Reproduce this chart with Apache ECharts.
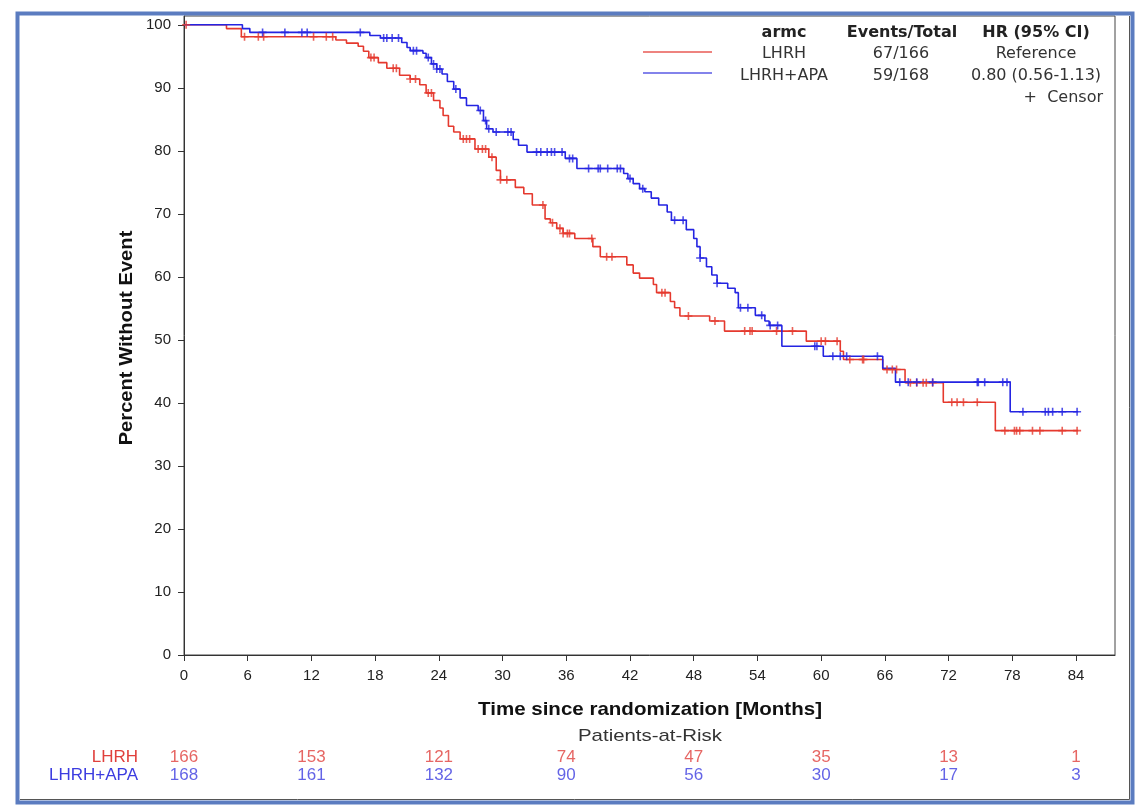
<!DOCTYPE html>
<html>
<head>
<meta charset="utf-8">
<script src="https://cdn.jsdelivr.net/npm/echarts@6/dist/echarts.min.js"></script>
<style>
html,body{margin:0;padding:0;background:#fff;}
#chart{width:1148px;height:812px;}
</style>
</head>
<body>
<div id="chart"></div>
<script>
// ---------- data ----------
const xTicks = [0, 6, 12, 18, 24, 30, 36, 42, 48, 54, 60, 66, 72, 78, 84];
const yTicks = [0, 10, 20, 30, 40, 50, 60, 70, 80, 90, 100];

const armNames = ['LHRH', 'LHRH+APA'];
const eventsTotal = ['67/166', '59/168'];
const hrText = ['Reference', '0.80 (0.56-1.13)'];

// Kaplan-Meier steps: [month, percent] (new level after each event)
const curveLHRH = [
  [0,100],[4.0,99.4],[5.4,98.1],[14.3,97.6],[15.3,97.1],[16.4,96.6],[16.9,95.8],[17.4,94.8],
  [18.3,94.0],[19.1,93.1],[20.3,92.0],[21.3,91.4],[22.2,90.5],[22.8,89.2],[23.5,88.0],[24.1,86.8],
  [24.4,85.6],[24.9,83.9],[25.4,83.0],[26.0,81.9],[27.4,80.3],[28.7,79.0],[29.4,76.9],[29.8,75.4],
  [31.2,74.2],[32.0,73.2],[32.8,71.4],[34.0,69.2],[34.5,68.6],[35.1,67.7],[35.7,66.9],[36.8,66.1],
  [38.5,64.8],[39.2,63.2],[41.7,61.9],[42.3,60.6],[42.9,59.8],[44.2,58.8],[44.5,57.5],[45.8,56.1],
  [46.2,55.1],[46.7,53.8],[49.5,53.0],[50.9,51.4],[58.6,49.8],[61.8,48.2],[62.1,46.9],[65.8,45.3],
  [67.9,43.2],[71.5,40.1],[76.4,35.6],[84.2,35.6]
];
const curveAPA = [
  [0,100],[5.5,99.4],[6.2,98.8],[17.5,98.3],[18.5,97.9],[20.5,97.2],[21.0,96.4],[21.3,95.9],
  [22.5,95.5],[22.8,94.8],[23.3,93.8],[23.8,93.0],[24.3,92.2],[24.8,91.0],[25.4,89.8],[26.0,88.4],
  [26.6,87.2],[27.7,86.4],[28.2,84.8],[28.5,83.5],[29.1,83.0],[31.0,81.8],[31.5,80.9],[32.3,79.8],
  [35.9,78.8],[37.0,77.2],[41.4,76.4],[41.8,75.6],[42.3,74.8],[42.9,74.0],[43.4,73.5],[44.0,72.5],
  [44.7,71.4],[45.5,70.3],[45.9,69.0],[47.3,67.5],[48.0,66.1],[48.3,64.8],[48.6,63.0],[49.2,61.6],
  [49.7,60.3],[50.2,59.0],[51.2,58.2],[51.9,57.5],[52.2,55.1],[53.8,53.9],[54.7,53.0],[55.1,52.3],
  [56.3,49.0],[60.2,47.4],[65.8,45.5],[67.0,43.3],[77.8,38.6],[84.2,38.6]
];

// censoring times (months)
const censorLHRH = [0.2,5.7,7.0,7.5,12.2,13.4,14.0,17.6,17.9,19.7,20.0,21.3,21.8,23.0,23.3,26.3,26.6,
  26.9,27.7,28.1,28.4,29.0,29.8,30.4,33.8,34.7,35.4,35.7,36.1,36.3,38.4,39.8,40.3,45.0,45.3,47.5,50.0,
  52.8,53.3,53.5,55.8,57.3,60.0,60.4,61.5,62.7,63.9,64.0,66.2,66.7,67.1,68.4,69.0,69.6,69.9,70.5,72.3,
  72.8,73.4,74.7,77.3,78.2,78.4,78.7,79.9,80.6,82.7,84.1];
const censorAPA = [7.4,9.5,11.1,11.6,16.6,18.8,19.1,19.6,20.2,21.6,21.9,23.0,23.5,23.8,24.1,25.6,27.9,
  28.4,28.7,29.4,30.5,30.8,33.2,33.6,34.2,34.6,34.9,35.6,36.3,36.6,38.1,39.0,39.2,39.9,40.8,41.1,42.0,
  43.2,46.2,47.0,48.6,50.2,52.4,53.1,54.4,55.2,55.9,59.4,59.6,61.1,61.8,62.4,65.3,67.4,68.2,69.0,70.5,
  74.7,74.8,75.4,77.1,77.5,79.0,81.1,81.4,81.8,82.7,84.1];

// patients at risk
const riskMonths = [0, 12, 24, 36, 48, 60, 72, 84];
const riskLHRH = [166, 153, 121, 74, 47, 35, 13, 1];
const riskAPA = [168, 161, 132, 90, 56, 30, 17, 3];

// ---------- chart ----------
const RED = '#e5392e';
const BLUE = '#2424e2';
const RED_T = '#e0403c';
const BLUE_T = '#3c3ce0';
const SANS = 'Liberation Sans, Arial, sans-serif';
const LEG = 'DejaVu Sans, Verdana, sans-serif';

function survAt(curve, t) {
  let v = curve[0][1];
  for (const p of curve) { if (p[0] <= t) v = p[1]; else break; }
  return v;
}
const crossPath = 'path://M4,0 H6 V4 H10 V6 H6 V10 H4 V6 H0 V4 H4 Z';

const XMAX = 87.67, YMAX = 101.4;

const chart = echarts.init(document.getElementById('chart'), null, {renderer: 'canvas'});

const legendGraphics = [
  {type:'line', shape:{x1:643,y1:52,x2:712,y2:52}, style:{stroke:'#e85a55',lineWidth:1.5}},
  {type:'line', shape:{x1:643,y1:73,x2:712,y2:73}, style:{stroke:'#5a5ae5',lineWidth:1.5}},
  {type:'text', x:784, y:33, style:{text:'armc', font:'bold 16px ' + LEG, fill:'#222', align:'center', verticalAlign:'middle'}},
  {type:'text', x:902, y:33, style:{text:'Events/Total', font:'bold 16px ' + LEG, fill:'#222', align:'center', verticalAlign:'middle'}},
  {type:'text', x:1036, y:33, style:{text:'HR (95% CI)', font:'bold 16px ' + LEG, fill:'#222', align:'center', verticalAlign:'middle'}},
  {type:'text', x:1103, y:98, style:{text:'+  Censor', font:'16px ' + LEG, fill:'#333', align:'right', verticalAlign:'middle'}}
];
armNames.forEach((n, i) => {
  const y = i === 0 ? 54 : 76;
  legendGraphics.push({type:'text', x:784, y:y, style:{text:n, font:'16px ' + LEG, fill:'#333', align:'center', verticalAlign:'middle'}});
  legendGraphics.push({type:'text', x:901, y:y, style:{text:eventsTotal[i], font:'16px ' + LEG, fill:'#333', align:'center', verticalAlign:'middle'}});
  legendGraphics.push({type:'text', x:1036, y:y, style:{text:hrText[i], font:'16px ' + LEG, fill:'#333', align:'center', verticalAlign:'middle'}});
});

const option = {
  backgroundColor: '#ffffff',
  animation: false,
  grid: [
    {left:184, right:33, top:16, bottom:157, show:true, borderColor:'#444', borderWidth:1, backgroundColor:'#fff'},
    {left:184, right:33, top:748, height:36}
  ],
  xAxis: [
    {type:'value', gridIndex:0, min:0, max:XMAX,
     axisLine:{show:true, lineStyle:{color:'#333', width:1}},
     axisTick:{show:true, customValues:xTicks, length:6, lineStyle:{color:'#333'}},
     axisLabel:{show:true, customValues:xTicks, fontSize:15, color:'#222', fontFamily:SANS, margin:13},
     splitLine:{show:false}},
    {type:'value', gridIndex:1, min:0, max:XMAX, show:false}
  ],
  yAxis: [
    {type:'value', gridIndex:0, min:0, max:YMAX,
     axisLine:{show:true, lineStyle:{color:'#333', width:1}},
     axisTick:{show:true, customValues:yTicks, length:6, lineStyle:{color:'#333'}},
     axisLabel:{show:true, customValues:yTicks, fontSize:15, color:'#222', fontFamily:SANS, margin:13},
     splitLine:{show:false}},
    {type:'category', gridIndex:1, data:['LHRH+APA', 'LHRH'], inverse:false,
     axisLine:{show:false}, axisTick:{show:false}, splitLine:{show:false},
     axisLabel:{show:true, interval:0, hideOverlap:false, margin:46, fontSize:17, fontFamily:SANS,
       formatter: v => v === 'LHRH' ? '{r|' + v + '}' : '{b|' + v + '}',
       rich:{r:{color:RED_T, fontSize:17, fontFamily:SANS}, b:{color:BLUE_T, fontSize:17, fontFamily:SANS}}}}
  ],
  series: [
    {name:'LHRH', type:'line', step:'end', data:curveLHRH, symbol:'none', xAxisIndex:0, yAxisIndex:0,
     lineStyle:{color:RED, width:1.6}, z:3},
    {name:'LHRH+APA', type:'line', step:'end', data:curveAPA, symbol:'none', xAxisIndex:0, yAxisIndex:0,
     lineStyle:{color:BLUE, width:1.6}, z:4},
    {name:'LHRH censor', type:'scatter', xAxisIndex:0, yAxisIndex:0, symbol:crossPath, symbolSize:8,
     data:censorLHRH.map(t => [t, survAt(curveLHRH, t)]), itemStyle:{color:RED}, z:5},
    {name:'APA censor', type:'scatter', xAxisIndex:0, yAxisIndex:0, symbol:crossPath, symbolSize:8,
     data:censorAPA.map(t => [t, survAt(curveAPA, t)]), itemStyle:{color:BLUE}, z:6},
    {name:'risk LHRH', type:'scatter', xAxisIndex:1, yAxisIndex:1, symbolSize:1, itemStyle:{color:'rgba(0,0,0,0)'},
     data:riskMonths.map((m, i) => [m, 'LHRH', riskLHRH[i]]),
     label:{show:true, position:'inside', formatter:p => String(p.value[2]), color:RED_T, fontSize:17, fontFamily:SANS}},
    {name:'risk APA', type:'scatter', xAxisIndex:1, yAxisIndex:1, symbolSize:1, itemStyle:{color:'rgba(0,0,0,0)'},
     data:riskMonths.map((m, i) => [m, 'LHRH+APA', riskAPA[i]]),
     label:{show:true, position:'inside', formatter:p => String(p.value[2]), color:BLUE_T, fontSize:17, fontFamily:SANS}}
  ],
  graphic: [
    {type:'rect', shape:{x:17.5, y:13.5, width:1115, height:789}, style:{fill:'none', stroke:'#5b7cc0', lineWidth:4}, z:100},
    {type:'polyline', shape:{points:[[1129.5,16],[1129.5,799.5],[20,799.5]]}, style:{fill:'none', stroke:'#555', lineWidth:1}, z:100},
    {type:'text', x:650, y:710, scaleX:1.08, style:{text:'Time since randomization [Months]', font:'bold 19px ' + SANS, fill:'#111', align:'center', verticalAlign:'middle'}},
    {type:'text', x:127, y:338, rotation:Math.PI/2, scaleX:1.06, style:{text:'Percent Without Event', font:'bold 19px ' + SANS, fill:'#111', align:'center', verticalAlign:'middle'}},
    {type:'text', x:650, y:736, scaleX:1.2, style:{text:'Patients-at-Risk', font:'17px ' + SANS, fill:'#333', align:'center', verticalAlign:'middle'}}
  ].concat(legendGraphics)
};
chart.setOption(option);
</script>
</body>
</html>
